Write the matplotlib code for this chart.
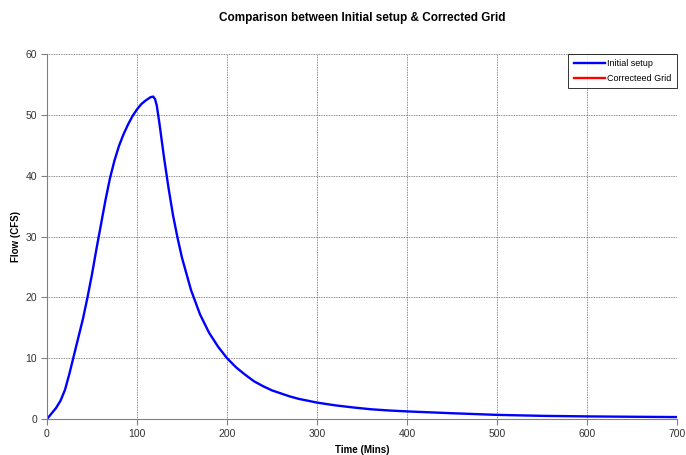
import matplotlib
matplotlib.use("Agg")
import matplotlib.pyplot as plt

plt.rcParams['font.family'] = ['Liberation Sans', 'DejaVu Sans']

# time (mins) and flow (CFS)
time_min = [0, 5, 10, 15, 20, 25, 30, 35, 40, 45, 50, 55, 60, 65, 70, 75, 80, 85,
            90, 95, 100, 105, 110, 115, 118, 120, 122, 125, 130, 135, 140, 145,
            150, 160, 170, 180, 190, 200, 210, 220, 230, 240, 250, 260, 270, 280,
            290, 300, 320, 340, 360, 380, 400, 450, 500, 550, 600, 650, 700]
initial_flow = [0, 0.9, 1.8, 3.0, 4.8, 7.5, 10.5, 13.5, 16.5, 20.0, 23.8, 28.0,
                32.0, 36.0, 39.6, 42.5, 44.9, 46.8, 48.4, 49.8, 50.9, 51.8, 52.4,
                52.9, 53.0, 52.6, 51.5, 48.5, 43.0, 38.0, 33.5, 29.8, 26.5, 21.2,
                17.2, 14.2, 11.9, 10.0, 8.5, 7.3, 6.2, 5.4, 4.7, 4.2, 3.7, 3.3,
                3.0, 2.7, 2.25, 1.9, 1.6, 1.4, 1.25, 0.95, 0.68, 0.52, 0.43,
                0.37, 0.32]
corrected_time = []
corrected_flow = []

fig = plt.figure(figsize=(6.86, 4.55), dpi=100)
ax = fig.add_axes([0.0685, 0.0791, 0.9185, 0.8022])

ax.plot(time_min, initial_flow, color='#0000ff', lw=1.7, label='Initial setup')
ax.plot(corrected_time, corrected_flow, color='#ff0000', lw=1.7, label='Correcteed Grid')

ax.set_xlim(0, 700)
ax.set_ylim(0, 60)
ax.set_xticks(range(0, 701, 100))
ax.set_yticks(range(0, 61, 10))
ax.grid(True, color='#666666', linestyle=(0, (1, 1)), lw=0.6)
ax.set_axisbelow(True)

for s in ['top', 'right']:
    ax.spines[s].set_visible(False)
for s in ['left', 'bottom']:
    ax.spines[s].set_color('#808080')
ax.tick_params(direction='out', length=4, color='#808080', labelsize=7.5,
               labelcolor='#333333', pad=3)

ax.set_title('Comparison between Initial setup & Corrected Grid',
             fontsize=8.5, fontweight='bold', pad=24)
ax.set_xlabel('Time (Mins)', fontsize=7, fontweight='bold')
ax.set_ylabel('Flow (CFS)', fontsize=7, fontweight='bold')
ax.xaxis.set_label_coords(0.5, -0.072)
ax.yaxis.set_label_coords(-0.041, 0.5)

leg = ax.legend(loc='upper right', fontsize=6.5, frameon=True, fancybox=False,
                edgecolor='black', borderaxespad=0, handlelength=3.5,
                handletextpad=0.2, labelspacing=0.6, borderpad=0.6)
leg.get_frame().set_linewidth(0.7)

fig.savefig('out.png', dpi=100)
